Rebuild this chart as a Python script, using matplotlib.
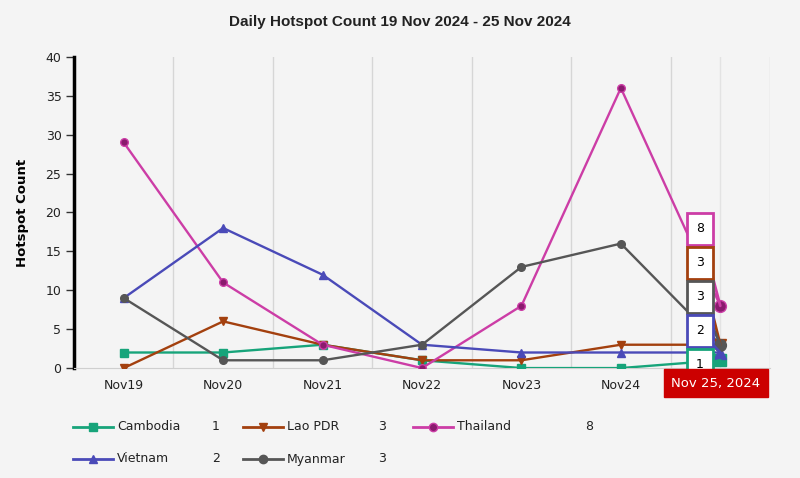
import numpy as np
import matplotlib.pyplot as plt
from matplotlib.lines import Line2D

days = ['Nov19', 'Nov20', 'Nov21', 'Nov22', 'Nov23', 'Nov24', 'Nov25']
hover_label = 'Nov 25, 2024'

cambodia = [2, 2, 3, 1, 0, 0, 1]
lao = [0, 6, 3, 1, 1, 3, 3]
thailand = [29, 11, 3, 0, 8, 36, 8]
vietnam = [9, 18, 12, 3, 2, 2, 2]
myanmar = [9, 1, 1, 3, 13, 16, 3]

# name, values, line colour, marker, marker face
series = [
    ('Cambodia', cambodia, '#17a47a', 's', '#17a47a'),
    ('Lao PDR', lao, '#a3400e', 'v', '#a3400e'),
    ('Thailand', thailand, '#cc3da6', 'o', '#8a1a6e'),
    ('Vietnam', vietnam, '#4a4ab8', '^', '#4a4ab8'),
    ('Myanmar', myanmar, '#565656', 'o', '#565656'),
]

bg = '#f4f4f4'
fig = plt.figure(figsize=(8, 4.78), dpi=100, facecolor=bg)
ax = fig.add_axes([0.0925, 0.23, 0.87, 0.651], facecolor=bg)

x = np.arange(len(days))
for name, vals, c, m, mf in series:
    ax.plot(x, vals, color=c, lw=1.7, marker=m, ms=5.5, mfc=mf, mec=c, zorder=3)
    # enlarged hovered point
    ax.plot(x[-1], vals[-1], marker=m, ms=8.5, mfc=mf, mec=c, zorder=4)

ax.set_xlim(-0.5, len(days) - 0.5)
ax.set_ylim(0, 40)
ax.set_yticks(range(0, 41, 5))
ax.set_xticks(x)
ax.set_xticklabels(days)
ax.get_xticklabels()[-1].set_visible(False)  # covered by the hover label
for b in np.arange(0.5, len(days), 1):
    ax.axvline(b, color='#d6d6d6', lw=1, zorder=0)
ax.axvline(x[-1], color='#e3e3e3', lw=1, zorder=0)

for s in ['top', 'right']:
    ax.spines[s].set_visible(False)
ax.spines['left'].set_linewidth(2.5)
ax.spines['left'].set_color('black')
ax.spines['bottom'].set_color('#cfcfcf')
ax.tick_params(axis='y', length=6, width=1, color='#333333', labelsize=9, labelcolor='#222222', pad=3)
ax.tick_params(axis='x', length=0, labelsize=9, labelcolor='#222222', pad=8)
ax.set_ylabel('Hotspot Count', fontsize=9.5, fontweight='bold', labelpad=12)

fig.text(0.5, 0.955, 'Daily Hotspot Count 19 Nov 2024 - 25 Nov 2024',
         ha='center', va='center', fontsize=11, fontweight='bold',
         family='Liberation Sans', color='#222222')

# tooltip boxes, sorted by latest value
order = sorted(range(len(series)), key=lambda i: -series[i][1][-1])
for k, i in enumerate(order):
    name, vals, c, m, mf = series[i]
    ax.annotate(str(vals[-1]), xy=(x[-1], vals[-1]),
                xytext=(700, 249 - 34 * k), textcoords='figure pixels',
                ha='center', va='center', fontsize=9, color='black',
                bbox=dict(boxstyle='square,pad=0.75', fc='white', ec=c, lw=2),
                arrowprops=dict(arrowstyle='-', color=c, lw=2, shrinkA=0, shrinkB=0),
                zorder=5)
fig.text(716 / 800, 95 / 478, hover_label, ha='center', va='center', fontsize=9.5,
         color='white', bbox=dict(boxstyle='square,pad=0.6', fc='#cc0000', ec='#cc0000'),
         zorder=6)

# legend with latest values
cols = [(73, 212), (243, 378), (413, 585)]
rows = [427, 459]
for i, (name, vals, c, m, mf) in enumerate(series):
    lx, vx = cols[i % 3]
    ly = 478 - rows[i // 3]
    fig.add_artist(Line2D([lx / 800, (lx + 40) / 800], [ly / 478, ly / 478],
                          color=c, lw=2, transform=fig.transFigure))
    fig.add_artist(Line2D([(lx + 20) / 800], [ly / 478], color=c, marker=m, ms=6,
                          mfc=mf, mec=c, lw=0, transform=fig.transFigure))
    fig.text((lx + 44) / 800, ly / 478, name, ha='left', va='center', fontsize=9, color='#222222')
    fig.text(vx / 800, ly / 478, str(vals[-1]), ha='left', va='center', fontsize=9, color='#222222')

fig.savefig('out.png', dpi=100, facecolor=bg)
